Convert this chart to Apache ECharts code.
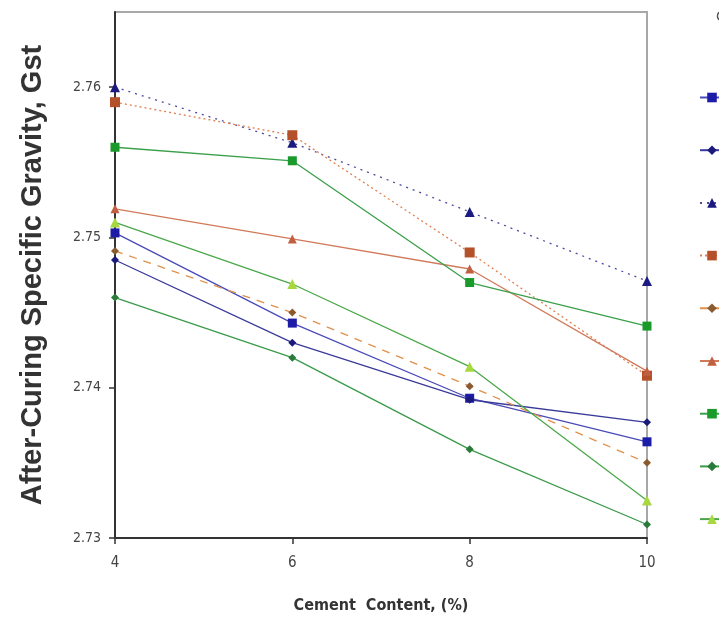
<!DOCTYPE html>
<html>
<head>
<meta charset="utf-8">
<script src="https://cdn.jsdelivr.net/npm/echarts@6/dist/echarts.min.js"></script>
<style>html,body{margin:0;padding:0;background:#fff;}#c{width:719px;height:623px;}</style>
</head>
<body>
<div id="c"></div>
<script>
const cementContent = [4, 6, 8, 10];
const yTicks = [2.73, 2.74, 2.75, 2.76];

const blueSquare    = [2.7503, 2.7443, 2.7393, 2.7364];
const blueDiamond   = [2.7485, 2.7430, 2.7392, 2.7377];
const blueTriangle  = [2.7600, 2.7563, 2.7517, 2.7471];
const brownSquare   = [2.7590, 2.7568, 2.7490, 2.7408];
const brownDiamond  = [2.7491, 2.7450, 2.7401, 2.7350];
const brownTriangle = [2.7519, 2.7499, 2.7479, 2.7411];
const greenSquare   = [2.7560, 2.7551, 2.7470, 2.7441];
const greenDiamond  = [2.7460, 2.7420, 2.7359, 2.7309];
const limeTriangle  = [2.7510, 2.7469, 2.7414, 2.7325];

const seriesNames = ['A - 7 days','A - 14 days','A - 28 days','B - 7 days','B - 14 days','B - 28 days','C - 7 days','C - 14 days','C - 28 days'];

function pts(vals){ return cementContent.map((x,i)=>[x, vals[i]]); }

const defs = [
  {name: seriesNames[0], data: blueSquare,    color:'#1c1ca6', lineColor:'#4a4ab8', symbol:'rect',     size:9, type:'solid'},
  {name: seriesNames[1], data: blueDiamond,   color:'#1a1a7a', lineColor:'#3a3a9a', symbol:'diamond',  size:8, type:'solid'},
  {name: seriesNames[2], data: blueTriangle,  color:'#1a1a80', lineColor:'#4a4aa0', symbol:'triangle', size:10, type:[2,5]},
  {name: seriesNames[3], data: brownSquare,   color:'#b4502a', lineColor:'#e08050', symbol:'rect',     size:10, type:[2,3]},
  {name: seriesNames[4], data: brownDiamond,  color:'#8a5a30', lineColor:'#e0904a', symbol:'diamond',  size:8, type:[8,7]},
  {name: seriesNames[5], data: brownTriangle, color:'#c06040', lineColor:'#d07a5a', symbol:'triangle', size:9, type:'solid'},
  {name: seriesNames[6], data: greenSquare,   color:'#1a9a2a', lineColor:'#3aa04a', symbol:'rect',     size:9, type:'solid'},
  {name: seriesNames[7], data: greenDiamond,  color:'#2a7a3a', lineColor:'#3a9a4a', symbol:'diamond',  size:8, type:'solid'},
  {name: seriesNames[8], data: limeTriangle,  color:'#a8d840', lineColor:'#4aa84a', symbol:'triangle', size:10, type:'solid'}
];

const narrow = "'Liberation Sans Narrow', 'DejaVu Sans Condensed', 'Roboto Condensed', sans-serif";

const chart = echarts.init(document.getElementById('c'), null, {renderer:'canvas'});
chart.setOption({
  animation: false,
  backgroundColor: '#fff',
  title: {
    text: 'Curing', left: 711, top: 4,
    textStyle: {fontFamily: 'Liberation Sans', fontSize: 15, fontWeight: 'normal', color: '#555'}
  },
  grid: {left: 115, right: 72, top: 12, bottom: 85, show: true, borderColor: '#a8a8a8', borderWidth: 2, backgroundColor: 'transparent'},
  legend: {
    orient: 'vertical', left: 694, top: 86, itemWidth: 24, itemHeight: 12, itemGap: 39.7,
    textStyle: {fontFamily: 'Liberation Sans', fontSize: 13, color: '#333'},
    data: seriesNames
  },
  xAxis: {
    type: 'value', min: 4, max: 10, interval: 2,
    name: 'Cement  Content, (%)', nameLocation: 'middle', nameGap: 60,
    nameTextStyle: {fontFamily: narrow, fontWeight: 'bold', fontSize: 16, color: '#333'},
    axisLine: {show: true, lineStyle: {color: '#333', width: 2}},
    axisTick: {show: true, length: 6, lineStyle: {color: '#333', width: 1.5}},
    axisLabel: {margin: 18, fontFamily: narrow, fontSize: 15, color: '#444'},
    splitLine: {show: false}
  },
  yAxis: {
    type: 'value', min: 2.73, max: 2.765, interval: 0.01,
    name: 'After-Curing Specific Gravity, Gst', nameLocation: 'middle', nameGap: 68,
    nameTextStyle: {fontFamily: 'Liberation Sans', fontWeight: 'bold', fontSize: 29, color: '#333'},
    axisLine: {show: true, lineStyle: {color: '#333', width: 2}},
    axisTick: {show: true, length: 6, lineStyle: {color: '#333', width: 1.5}},
    axisLabel: {margin: 14, showMaxLabel: false, fontFamily: narrow, fontSize: 14, color: '#444',
      formatter: v => yTicks.some(t => Math.abs(t - v) < 1e-9) ? v.toFixed(2) : ''},
    splitLine: {show: false}
  },
  series: defs.map(d => ({
    name: d.name, type: 'line', data: pts(d.data),
    symbol: d.symbol, symbolSize: d.size,
    itemStyle: {color: d.color},
    lineStyle: {color: d.lineColor, width: 1.3, type: d.type},
    emphasis: {disabled: true}
  }))
});
</script>
</body>
</html>
